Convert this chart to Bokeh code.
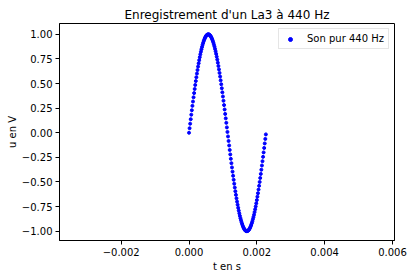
from bokeh.plotting import figure
from bokeh.models import FixedTicker, Range1d, Legend, LegendItem
from bokeh.embed import file_html
from bokeh.resources import INLINE

# sample times in microseconds
t_us = [0.0, 16.7, 33.3, 50.0, 66.7, 83.3, 100.0, 116.7, 133.3, 150.0, 166.7, 183.3,
        200.0, 216.7, 233.3, 250.0, 266.7, 283.3, 300.0, 316.7, 333.3, 350.0, 366.7, 383.3,
        400.0, 416.7, 433.3, 450.0, 466.7, 483.3, 500.0, 516.7, 533.3, 550.0, 566.7, 583.3,
        600.0, 616.7, 633.3, 650.0, 666.7, 683.3, 700.0, 716.7, 733.3, 750.0, 766.7, 783.3,
        800.0, 816.7, 833.3, 850.0, 866.7, 883.3, 900.0, 916.7, 933.3, 950.0, 966.7, 983.3,
        1000.0, 1016.7, 1033.3, 1050.0, 1066.7, 1083.3, 1100.0, 1116.7, 1133.3, 1150.0, 1166.7, 1183.3,
        1200.0, 1216.7, 1233.3, 1250.0, 1266.7, 1283.3, 1300.0, 1316.7, 1333.3, 1350.0, 1366.7, 1383.3,
        1400.0, 1416.7, 1433.3, 1450.0, 1466.7, 1483.3, 1500.0, 1516.7, 1533.3, 1550.0, 1566.7, 1583.3,
        1600.0, 1616.7, 1633.3, 1650.0, 1666.7, 1683.3, 1700.0, 1716.7, 1733.3, 1750.0, 1766.7, 1783.3,
        1800.0, 1816.7, 1833.3, 1850.0, 1866.7, 1883.3, 1900.0, 1916.7, 1933.3, 1950.0, 1966.7, 1983.3,
        2000.0, 2016.7, 2033.3, 2050.0, 2066.7, 2083.3, 2100.0, 2116.7, 2133.3, 2150.0, 2166.7, 2183.3,
        2200.0, 2216.7, 2233.3, 2250.0, 2266.7]
# voltage in V
u = [0.0, 0.0461, 0.0920, 0.1378, 0.1833, 0.2284, 0.2730, 0.3170, 0.3603, 0.4029, 0.4446, 0.4854,
     0.5252, 0.5640, 0.6013, 0.6374, 0.6723, 0.7056, 0.7373, 0.7678, 0.7965, 0.8235, 0.8488, 0.8722,
     0.8939, 0.9135, 0.9313, 0.9471, 0.9609, 0.9726, 0.9823, 0.9899, 0.9954, 0.9987, 1.0000, 0.9991,
     0.9961, 0.9910, 0.9838, 0.9745, 0.9632, 0.9498, 0.9343, 0.9169, 0.8976, 0.8763, 0.8531, 0.8282,
     0.8014, 0.7730, 0.7431, 0.7115, 0.6783, 0.6438, 0.6081, 0.5707, 0.5322, 0.4927, 0.4521, 0.4105,
     0.3681, 0.3249, 0.2810, 0.2365, 0.1915, 0.1461, 0.1004, 0.0544, 0.0084, -0.0377, -0.0837, -0.1295,
     -0.1750, -0.2202, -0.2649, -0.3090, -0.3525, -0.3952, -0.4371, -0.4781, -0.5180, -0.5568, -0.5945,
     -0.6310, -0.6659, -0.6997, -0.7318, -0.7624, -0.7914, -0.8188, -0.8443, -0.8681, -0.8900, -0.9101,
     -0.9282, -0.9444, -0.9585, -0.9707, -0.9807, -0.9887, -0.9945, -0.9983, -0.9999, -0.9995, -0.9968,
     -0.9921, -0.9853, -0.9763, -0.9654, -0.9523, -0.9373, -0.9203, -0.9013, -0.8802, -0.8576, -0.8329,
     -0.8064, -0.7783, -0.7487, -0.7174, -0.6845, -0.6502, -0.6145, -0.5775, -0.5393, -0.5000, -0.4596,
     -0.4181, -0.3758, -0.3328, -0.2890, -0.2446, -0.1997, -0.1543, -0.1087, -0.0628, -0.0168]

t = [v * 1e-6 for v in t_us]

x_ticks = [-0.002, 0.0, 0.002, 0.004, 0.006]
x_tick_labels = ["\u22120.002", "0.000", "0.002", "0.004", "0.006"]
y_ticks = [-1.0, -0.75, -0.5, -0.25, 0.0, 0.25, 0.5, 0.75, 1.0]
y_tick_labels = ["\u22121.00", "\u22120.75", "\u22120.50", "\u22120.25", "0.00", "0.25", "0.50", "0.75", "1.00"]

title = "Enregistrement d'un La3 à 440 Hz"
legend_label = "Son pur 440 Hz"

p = figure(frame_width=335, frame_height=217, output_backend="svg", toolbar_location=None,
           x_range=Range1d(-0.00382, 0.00606), y_range=Range1d(-1.095, 1.11),
           min_border_left=59, min_border_right=19, min_border_top=23, min_border_bottom=38,
           title=title)
p.title.text_font = "DejaVu Sans"
p.title.text_font_size = "12px"
p.title.text_font_style = "normal"
p.title.align = "center"
p.title.text_color = "black"
p.title.standoff = 4

r = p.scatter(t, u, size=3.0, color="blue", marker="circle")

p.xgrid.visible = False
p.ygrid.visible = False
p.outline_line_color = "black"
p.outline_line_alpha = 1.0
p.outline_line_width = 1
p.background_fill_color = "white"
p.border_fill_color = "white"

for ax in (p.xaxis[0], p.yaxis[0]):
    ax.axis_line_color = "black"
    ax.major_tick_line_color = "black"
    ax.minor_tick_line_color = None
    ax.major_tick_out = 4
    ax.major_tick_in = 0
    ax.major_label_text_font = "DejaVu Sans"
    ax.major_label_text_font_size = "10px"
    ax.major_label_text_color = "black"
    ax.axis_label_text_font = "DejaVu Sans"
    ax.axis_label_text_font_size = "10px"
    ax.axis_label_text_font_style = "normal"
    ax.axis_label_text_color = "black"

p.xaxis.ticker = FixedTicker(ticks=x_ticks)
p.xaxis.major_label_overrides = dict(zip(x_ticks, x_tick_labels))
p.yaxis.ticker = FixedTicker(ticks=y_ticks)
p.yaxis.major_label_overrides = dict(zip(y_ticks, y_tick_labels))
p.xaxis.axis_label = "t en s"
p.yaxis.axis_label = "u en V"
p.xaxis.major_label_standoff = 3
p.xaxis.axis_label_standoff = 2
p.yaxis.major_label_standoff = 3
p.yaxis.axis_label_standoff = 1

legend = Legend(items=[LegendItem(label=legend_label, renderers=[r])], location="top_right")
legend.label_text_font = "DejaVu Sans"
legend.label_text_font_size = "10px"
legend.label_text_color = "black"
legend.border_line_color = "#cccccc"
legend.border_line_width = 1
legend.background_fill_alpha = 0.8
legend.glyph_width = 14
legend.glyph_height = 10
legend.padding = 4
legend.spacing = 0
legend.label_standoff = 10
legend.margin = 5
legend.label_height = 11
p.add_layout(legend)

open("out.html", "w").write(file_html(p, INLINE))
